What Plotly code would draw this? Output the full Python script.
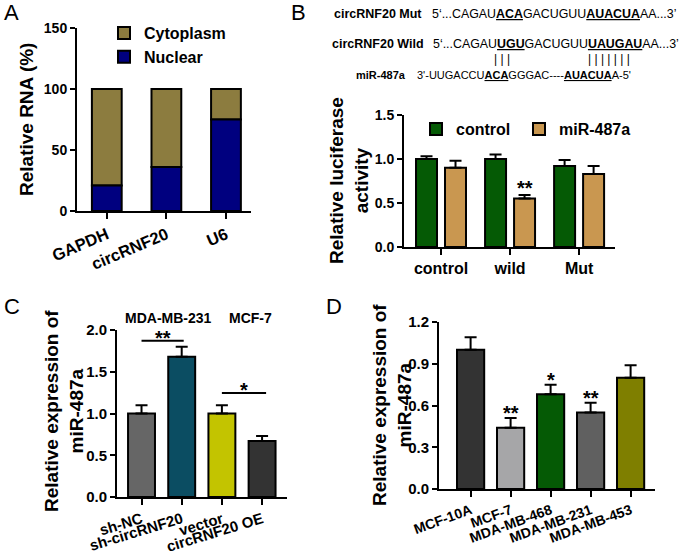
import plotly.graph_objects as go

W, H = 685, 552
FONT = "Liberation Sans, Arial, sans-serif"

# ---------------- data ----------------
# Panel A
a_cats = ["GAPDH", "circRNF20", "U6"]
a_nuclear = [21, 36, 75]
a_cytoplasm = [79, 64, 25]

# Panel B
b_cats = ["control", "wild", "Mut"]
b_control = [1.00, 1.00, 0.92]
b_control_err = [0.03, 0.05, 0.07]
b_mir = [0.90, 0.55, 0.83]
b_mir_err = [0.08, 0.04, 0.09]

# Panel C
c_cats = ["sh-NC", "sh-circRNF20", "vector", "circRNF20 OE"]
c_vals = [1.00, 1.68, 1.00, 0.67]
c_err = [0.10, 0.12, 0.10, 0.06]
c_colors = ["#666666", "#0b4d62", "#c3c400", "#333333"]

# Panel D
d_cats = ["MCF-10A", "MCF-7", "MDA-MB-468", "MDA-MB-231", "MDA-MB-453"]
d_vals = [1.00, 0.44, 0.68, 0.55, 0.80]
d_err = [0.09, 0.07, 0.07, 0.07, 0.09]
d_colors = ["#333333", "#a6a6a8", "#055a05", "#606060", "#7f7f00"]
d_sig = ["", "**", "*", "**", ""]

def px(x):
    return x / W

def py(y):
    return 1 - y / H

fig = go.Figure()
LINE = dict(color="black", width=2)

def err(arr):
    return dict(type="data", array=arr, arrayminus=[0] * len(arr), symmetric=False,
                color="black", thickness=2, width=6)

# Panel A traces
fig.add_trace(go.Bar(x=a_cats, y=a_cytoplasm, base=a_nuclear, name="Cytoplasm",
                     marker=dict(color="#8c7c3f", line=LINE), width=0.5,
                     xaxis="x", yaxis="y", legend="legend"))
fig.add_trace(go.Bar(x=a_cats, y=a_nuclear, name="Nuclear",
                     marker=dict(color="#00007f", line=LINE), width=0.5,
                     xaxis="x", yaxis="y", legend="legend"))

# Panel B traces
fig.add_trace(go.Bar(x=b_cats, y=b_control, name="control", error_y=err(b_control_err),
                     marker=dict(color="#055a05", line=LINE), width=0.304, offset=-0.362,
                     xaxis="x2", yaxis="y2", legend="legend2"))
fig.add_trace(go.Bar(x=b_cats, y=b_mir, name="miR-487a", error_y=err(b_mir_err),
                     marker=dict(color="#c99750", line=LINE), width=0.304, offset=0.058,
                     xaxis="x2", yaxis="y2", legend="legend3"))

# Panel C
fig.add_trace(go.Bar(x=c_cats, y=c_vals, error_y=err(c_err), showlegend=False,
                     marker=dict(color=c_colors, line=LINE), width=0.67,
                     xaxis="x3", yaxis="y3"))

# Panel D
fig.add_trace(go.Bar(x=d_cats, y=d_vals, error_y=err(d_err), showlegend=False,
                     marker=dict(color=d_colors, line=LINE), width=0.68,
                     xaxis="x4", yaxis="y4"))

def xax(domain, rng, anchor, size, angle):
    return dict(domain=domain, range=rng, anchor=anchor, showline=True, linecolor="black",
                linewidth=2, ticks="outside", ticklen=6, tickwidth=2, tickcolor="black",
                showgrid=False, zeroline=False, tickangle=angle, fixedrange=True,
                automargin=False,
                tickfont=dict(family=FONT, size=size, color="black", weight="bold"))

def yax(domain, rng, anchor, dtick, fmt, size):
    return dict(domain=domain, range=rng, anchor=anchor, showline=True, linecolor="black",
                linewidth=2, ticks="outside", ticklen=5, tickwidth=2, tickcolor="black",
                showgrid=False, zeroline=False, dtick=dtick, tick0=0, tickformat=fmt,
                automargin=False, fixedrange=True,
                tickfont=dict(family=FONT, size=size, color="black", weight="bold"))

annotations = []

def ann(text, x, y, size, bold=False, xanchor="center", yanchor="middle", angle=0,
        xref="paper", yref="paper", yshift=0):
    annotations.append(dict(text=text, x=x, y=y, xref=xref, yref=yref, showarrow=False,
                            xanchor=xanchor, yanchor=yanchor, textangle=angle, yshift=yshift,
                            font=dict(family=FONT, size=size, color="black",
                                      weight="bold" if bold else "normal")))

# Panel letters
ann("A", px(2), py(13), 22, xanchor="left")
ann("B", px(289), py(13), 22, xanchor="left")
ann("C", px(2), py(306), 22, xanchor="left")
ann("D", px(324), py(306), 22, xanchor="left")

# Axis titles
ann("Relative RNA (%)", px(27), py(120), 19, bold=True, angle=-90)
ann("Relative luciferase<br>activity", px(349), py(181), 19, bold=True, angle=-90)
ann("Relative expression of<br>miR-487a", px(64), py(411), 19, bold=True, angle=-90)
ann("Relative expression of<br>miR-487a", px(392), py(405), 19, bold=True, angle=-90)

# Sequence text (panel B)
U = "<span style='text-decoration:underline'><b>%s</b></span>"
ann("circRNF20 Mut", px(424), py(14), 12.5, bold=True, xanchor="right")
ann("5‘...CAGAU" + U % "ACA" + "GACUGUU" + U % "AUACUA" + "AA...3’", px(430), py(14), 12.4,
    xanchor="left")
ann("circRNF20 Wild", px(426), py(44), 12.5, bold=True, xanchor="right")
ann("5‘...CAGAU" + U % "UGU" + "GACUGUU" + U % "UAUGAU" + "AA...3’", px(431), py(44), 12.4,
    xanchor="left")
ann("| | |", px(502), py(59), 12)
ann("| | | | | | |", px(609), py(59), 12)
ann("miR-487a", px(408), py(75), 11, bold=True, xanchor="right")
ann("3'-UUGACCU" + U % "ACA" + "GGGAC----" + U % "AUACUA" + "A-5'", px(415), py(75), 11,
    xanchor="left")

# Significance stars
ann("**", 1 + 0.21, b_mir[1] + b_mir_err[1], 20, bold=True, xref="x2", yref="y2", yshift=7)
for i, s in enumerate(d_sig):
    if s:
        ann(s, i, d_vals[i] + d_err[i], 20, bold=True, xref="x4", yref="y4", yshift=5)

# Panel C group labels and significance
ann("MDA-MB-231", 0.66, py(318), 14, bold=True, xref="x3")
ann("MCF-7", 2.7, py(318), 14, bold=True, xref="x3")
sig_lines = [(0.0, 1.05, 1.87, "**"), (2.0, 3.1, 1.245, "*")]
shapes = []
for x0, x1, yv, s in sig_lines:
    shapes.append(dict(type="line", x0=x0, x1=x1, y0=yv, y1=yv, xref="x3", yref="y3",
                       line=dict(color="black", width=2)))
    ann(s, (x0 + x1) / 2, yv, 20, bold=True, xref="x3", yref="y3", yshift=3)

LEGFONT = dict(family=FONT, size=16, color="black", weight="bold")
fig.update_layout(
    width=W, height=H, autosize=False,
    margin=dict(l=0, r=0, t=0, b=0, pad=0, autoexpand=False),
    paper_bgcolor="white", plot_bgcolor="white",
    barmode="overlay", showlegend=True,
    font=dict(family=FONT, color="black"),
    xaxis=xax([px(77), px(251)], [-0.5, 2.42], "y", 16.5, -23),
    yaxis=yax([py(211), py(28)], [0, 150], "x", 50, "d", 14),
    xaxis2=xax([px(404), px(615)], [-0.536, 2.52], "y2", 16, 0),
    yaxis2=yax([py(247), py(115)], [0, 1.5], "x2", 0.5, ".1f", 14),
    xaxis3=xax([px(117), px(287)], [-0.61, 3.62], "y3", 15, -17),
    yaxis3=yax([py(497), py(330)], [0, 2.0], "x3", 0.5, ".1f", 15),
    xaxis4=xax([px(439), px(655)], [-0.79, 4.61], "y4", 14, -20),
    yaxis4=yax([py(489), py(322)], [0, 1.2], "x4", 0.3, ".1f", 15),
    legend=dict(x=px(104), y=py(16), xanchor="left", yanchor="top", orientation="v",
                bgcolor="rgba(0,0,0,0)", tracegroupgap=0, font=LEGFONT),
    legend2=dict(x=px(416), y=py(112), xanchor="left", yanchor="top", orientation="h",
                 bgcolor="rgba(0,0,0,0)", font=LEGFONT),
    legend3=dict(x=px(519), y=py(112), xanchor="left", yanchor="top", orientation="h",
                 bgcolor="rgba(0,0,0,0)", font=LEGFONT),
    annotations=annotations, shapes=shapes,
)

fig.write_html("out.html", config={"displayModeBar": False, "staticPlot": True},
               post_script="document.body.style.margin='0';")
